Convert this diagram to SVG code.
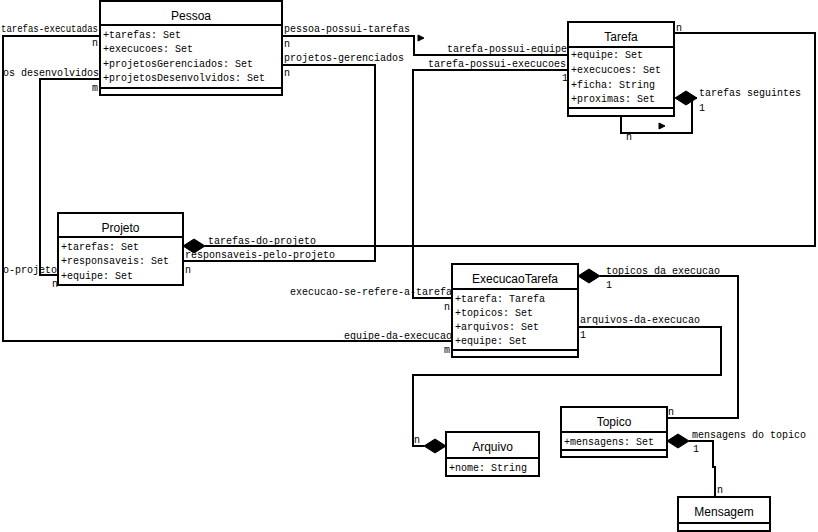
<svg xmlns="http://www.w3.org/2000/svg" width="818" height="532" viewBox="0 0 818 532">
<style>
.box{fill:#fff;stroke:#000;stroke-width:2}
.sep{stroke:#000;stroke-width:2}
.conn{fill:none;stroke:#000;stroke-width:2}
.title{font-family:"Liberation Sans",Arial,sans-serif;font-size:12px;text-anchor:middle;fill:#000}
.mono{font-family:"Liberation Mono","Courier New",monospace;font-size:10px;fill:#000}
.end{text-anchor:end}
.head{fill:#000;stroke:#000;stroke-width:1}
</style>
<defs>
<path id="dia" d="M0,0 L11,-7 L22,0 L11,7 Z"/>
<path id="tri" d="M0,-3 L6,0 L0,3 Z"/>
</defs>
<rect width="818" height="532" fill="#fff"/>
<g id="connectors">
<path class="conn" d="M100,36 H3 V341 H452"/>
<path class="conn" d="M100,79 H40 V275 H58"/>
<path class="conn" d="M282,36 H414 V55 H568"/>
<path class="conn" d="M282,65 H375 V261 H183"/>
<path class="conn" d="M568,70 H413 V298 H452"/>
<path class="conn" d="M205,246 H815 V33 H674"/>
<path class="conn" d="M621,116 V133 H692 V98 H697"/>
<path class="conn" d="M600,276 H738 V418 H667"/>
<path class="conn" d="M578,327 H721 V375 H413 V446 H424"/>
<path class="conn" d="M715,497 V467 H713 V441 H689"/>
<use href="#dia" class="head" transform="translate(675,98)"/>
<use href="#dia" class="head" transform="translate(183,246)"/>
<use href="#dia" class="head" transform="translate(578,276)"/>
<use href="#dia" class="head" transform="translate(667,441)"/>
<use href="#dia" class="head" transform="translate(424,446)"/>
<use href="#tri" class="head" transform="translate(418,38)"/>
<use href="#tri" class="head" transform="translate(659,126)"/>
<text class="mono" x="1" y="32" textLength="97" lengthAdjust="spacingAndGlyphs">tarefas-executadas</text>
<text class="mono" x="92" y="46">n</text>
<text class="mono end" x="99" y="76">os desenvolvidos</text>
<text class="mono" x="92" y="91">m</text>
<text class="mono" x="284" y="32">pessoa-possui-tarefas</text>
<text class="mono" x="284" y="47">n</text>
<text class="mono" x="284" y="61">projetos-gerenciados</text>
<text class="mono" x="284" y="76">n</text>
<text class="mono end" x="567" y="52">tarefa-possui-equipe</text>
<text class="mono" x="428" y="67">tarefa-possui-execucoes</text>
<text class="mono" x="562" y="81">1</text>
<text class="mono" x="676" y="31">n</text>
<text class="mono" x="699" y="96">tarefas seguintes</text>
<text class="mono" x="699" y="111">1</text>
<text class="mono" x="626" y="140">n</text>
<text class="mono" x="208" y="244">tarefas-do-projeto</text>
<text class="mono" x="185" y="258">responsaveis-pelo-projeto</text>
<text class="mono" x="185" y="273">n</text>
<text class="mono end" x="57" y="273">o-projeto</text>
<text class="mono" x="52" y="287">n</text>
<text class="mono end" x="452" y="295">execucao-se-refere-a-tarefa</text>
<text class="mono" x="444" y="310">n</text>
<text class="mono end" x="452" y="339">equipe-da-execucao</text>
<text class="mono" x="444" y="353">m</text>
<text class="mono" x="606" y="274">topicos da execucao</text>
<text class="mono" x="606" y="288">1</text>
<text class="mono" x="580" y="323">arquivos-da-execucao</text>
<text class="mono" x="580" y="338">1</text>
<text class="mono" x="414" y="443">n</text>
<text class="mono" x="668" y="415">n</text>
<text class="mono" x="692" y="438">mensagens do topico</text>
<text class="mono" x="693" y="452">1</text>
<text class="mono" x="717" y="493">n</text>
</g>
<g id="Pessoa">
<rect class="box" x="100" y="1" width="182" height="94"/>
<line class="sep" x1="100" y1="25" x2="282" y2="25"/>
<line class="sep" x1="100" y1="88" x2="282" y2="88"/>
<text class="title" x="191" y="19.5">Pessoa</text>
<text class="mono" x="103" y="38">+tarefas: Set</text>
<text class="mono" x="103" y="52">+execucoes: Set</text>
<text class="mono" x="103" y="67">+projetosGerenciados: Set</text>
<text class="mono" x="103" y="81">+projetosDesenvolvidos: Set</text>
</g>
<g id="Tarefa">
<rect class="box" x="568" y="22" width="106" height="94"/>
<line class="sep" x1="568" y1="47" x2="674" y2="47"/>
<line class="sep" x1="568" y1="108" x2="674" y2="108"/>
<text class="title" x="621" y="40.5">Tarefa</text>
<text class="mono" x="571" y="58">+equipe: Set</text>
<text class="mono" x="571" y="73">+execucoes: Set</text>
<text class="mono" x="571" y="88">+ficha: String</text>
<text class="mono" x="571" y="102">+proximas: Set</text>
</g>
<g id="Projeto">
<rect class="box" x="58" y="213" width="125" height="72"/>
<line class="sep" x1="58" y1="237" x2="183" y2="237"/>
<text class="title" x="120.5" y="231.5">Projeto</text>
<text class="mono" x="61" y="250">+tarefas: Set</text>
<text class="mono" x="61" y="264">+responsaveis: Set</text>
<text class="mono" x="61" y="279">+equipe: Set</text>
</g>
<g id="ExecucaoTarefa">
<rect class="box" x="452" y="264" width="126" height="93"/>
<line class="sep" x1="452" y1="289" x2="578" y2="289"/>
<line class="sep" x1="452" y1="350" x2="578" y2="350"/>
<text class="title" x="515" y="282.5">ExecucaoTarefa</text>
<text class="mono" x="455" y="302">+tarefa: Tarefa</text>
<text class="mono" x="455" y="316">+topicos: Set</text>
<text class="mono" x="455" y="330">+arquivos: Set</text>
<text class="mono" x="455" y="344">+equipe: Set</text>
</g>
<g id="Topico">
<rect class="box" x="561" y="407" width="106" height="50"/>
<line class="sep" x1="561" y1="432" x2="667" y2="432"/>
<line class="sep" x1="561" y1="450" x2="667" y2="450"/>
<text class="title" x="614" y="425.5">Topico</text>
<text class="mono" x="564" y="445">+mensagens: Set</text>
</g>
<g id="Arquivo">
<rect class="box" x="446" y="432" width="93" height="44"/>
<line class="sep" x1="446" y1="458" x2="539" y2="458"/>
<text class="title" x="492.5" y="450.5">Arquivo</text>
<text class="mono" x="449" y="471">+nome: String</text>
</g>
<g id="Mensagem">
<rect class="box" x="678" y="497" width="92" height="34"/>
<line class="sep" x1="678" y1="523" x2="770" y2="523"/>
<text class="title" x="724" y="516">Mensagem</text>
</g>
</svg>
